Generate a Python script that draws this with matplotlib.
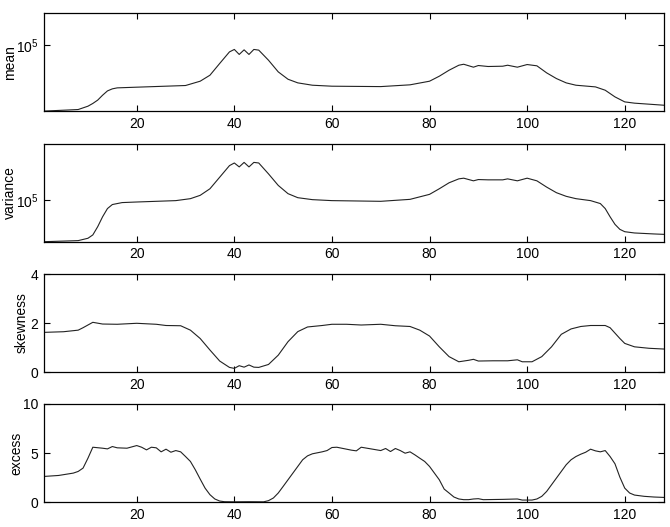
import numpy as np
import matplotlib
matplotlib.use("Agg")
import matplotlib.pyplot as plt
from matplotlib.ticker import FixedLocator, NullLocator, FuncFormatter

plt.rcParams['font.family'] = ['Liberation Sans', 'DejaVu Sans']
plt.rcParams['mathtext.fontset'] = 'custom'
plt.rcParams['mathtext.rm'] = 'Liberation Sans'

# mean (log10 values)
mean_x = [1, 8, 10, 11, 12, 13, 14, 15, 16, 20, 30, 33, 35, 37, 39, 40, 41, 42, 43, 44, 45,
          47, 49, 51, 53, 56, 60, 70, 76, 80, 82, 84, 86, 87, 89, 90, 92, 95, 96, 98, 100,
          102, 104, 106, 108, 110, 114, 116, 118, 120, 122, 126, 128]
mean_log10 = [4.328, 4.344, 4.378, 4.406, 4.44, 4.49, 4.534, 4.555, 4.565, 4.572, 4.589, 4.633,
              4.694, 4.814, 4.932, 4.957, 4.906, 4.953, 4.906, 4.957, 4.95, 4.847, 4.728, 4.653,
              4.616, 4.592, 4.582, 4.578, 4.596, 4.633, 4.684, 4.745, 4.796, 4.806, 4.776, 4.793,
              4.783, 4.786, 4.796, 4.776, 4.803, 4.79, 4.718, 4.66, 4.616, 4.592, 4.575, 4.541,
              4.473, 4.422, 4.409, 4.395, 4.388]

# variance (log10 values)
var_x = [1, 8, 10, 11, 12, 13, 14, 15, 17, 20, 28, 31, 33, 35, 37, 39, 40, 41, 42, 43, 44, 45,
         47, 49, 51, 53, 56, 60, 70, 76, 80, 82, 84, 86, 87, 89, 90, 92, 95, 96, 98, 100, 102,
         104, 106, 108, 110, 113, 115, 116, 117, 118, 119, 120, 122, 126, 128]
var_log10 = [4.575, 4.586, 4.61, 4.644, 4.728, 4.829, 4.913, 4.954, 4.974, 4.98, 4.994, 5.014,
             5.048, 5.115, 5.233, 5.351, 5.378, 5.338, 5.384, 5.338, 5.384, 5.378, 5.267, 5.149,
             5.065, 5.024, 5.004, 4.994, 4.987, 5.007, 5.058, 5.115, 5.176, 5.216, 5.223, 5.196,
             5.209, 5.206, 5.206, 5.216, 5.196, 5.223, 5.196, 5.132, 5.075, 5.038, 5.014, 4.994,
             4.964, 4.913, 4.829, 4.752, 4.701, 4.677, 4.664, 4.654, 4.65]

skew_x = [1, 5, 8, 9, 11, 13, 16, 20, 24, 26, 29, 31, 33, 35, 37, 39, 40, 41, 42, 43, 44, 45,
          47, 49, 51, 53, 55, 58, 60, 63, 66, 70, 73, 76, 78, 80, 82, 84, 86, 88, 89, 90, 93,
          96, 98, 99, 101, 103, 105, 107, 109, 111, 113, 116, 117, 119, 120, 122, 125, 128]
skew = [1.62, 1.646, 1.71, 1.81, 2.03, 1.96, 1.95, 1.99, 1.95, 1.90, 1.89, 1.71, 1.37, 0.90,
        0.45, 0.19, 0.15, 0.26, 0.20, 0.29, 0.20, 0.19, 0.31, 0.69, 1.24, 1.65, 1.84, 1.90,
        1.95, 1.95, 1.92, 1.95, 1.89, 1.86, 1.71, 1.47, 1.03, 0.63, 0.42, 0.48, 0.52, 0.45,
        0.46, 0.46, 0.50, 0.42, 0.42, 0.63, 1.03, 1.54, 1.76, 1.86, 1.90, 1.90, 1.81, 1.37,
        1.17, 1.03, 0.97, 0.94]

exc_x = [1, 4, 7, 8, 9, 10, 11, 13, 14, 15, 16, 18, 20, 21, 22, 23, 24, 25, 26, 27, 28, 29,
         30, 31, 32, 33, 34, 35, 36, 37, 38, 40, 43, 46, 47, 48, 49, 50, 51, 52, 53, 54, 55,
         56, 58, 59, 60, 61, 62, 63, 64, 65, 66, 68, 70, 71, 72, 73, 74, 75, 76, 77, 78, 79,
         80, 81, 82, 83, 84, 85, 86, 87, 88, 89, 90, 91, 95, 98, 99, 100, 101, 102, 103, 104,
         105, 106, 107, 108, 109, 110, 111, 112, 113, 114, 115, 116, 117, 118, 119, 120, 121,
         122, 124, 126, 128]
excess = [2.61, 2.71, 2.95, 3.12, 3.46, 4.47, 5.59, 5.49, 5.42, 5.66, 5.53, 5.49, 5.76, 5.59,
          5.32, 5.59, 5.53, 5.12, 5.39, 5.08, 5.25, 5.12, 4.64, 4.14, 3.29, 2.34, 1.42, 0.75,
          0.31, 0.10, 0.03, 0.02, 0.03, 0.02, 0.14, 0.41, 0.92, 1.59, 2.27, 2.95, 3.63, 4.31,
          4.71, 4.92, 5.12, 5.25, 5.56, 5.59, 5.49, 5.39, 5.29, 5.22, 5.59, 5.42, 5.25, 5.46,
          5.15, 5.46, 5.25, 4.98, 5.12, 4.81, 4.47, 4.14, 3.63, 2.95, 2.27, 1.32, 0.92, 0.51,
          0.31, 0.24, 0.24, 0.31, 0.34, 0.24, 0.27, 0.31, 0.20, 0.20, 0.20, 0.31, 0.58, 1.08,
          1.76, 2.44, 3.12, 3.80, 4.31, 4.64, 4.88, 5.08, 5.39, 5.22, 5.12, 5.25, 4.64, 3.90,
          2.54, 1.42, 0.92, 0.71, 0.58, 0.51, 0.47]

xticks = [20, 40, 60, 80, 100, 120]

fig = plt.figure(figsize=(6.7, 5.27), dpi=100)
left, width, height = 0.0657, 0.925, 0.186
bottoms = [0.789, 0.541, 0.294, 0.0474]

def style(ax):
    ax.set_xlim(1, 128)
    ax.xaxis.set_major_locator(FixedLocator(xticks))
    ax.xaxis.set_minor_locator(NullLocator())
    ax.yaxis.set_minor_locator(NullLocator())
    ax.tick_params(direction='in', top=True, right=True, length=4, width=0.8,
                   labelsize=10, pad=4)
    for s in ax.spines.values():
        s.set_linewidth(0.9)

def pow10(v, pos):
    return r'$\mathregular{10^{%d}}$' % round(np.log10(v))

lc = '#222222'
lw = 0.8

ax = fig.add_axes([left, bottoms[0], width, height])
ax.plot(mean_x, 10 ** np.array(mean_log10), color=lc, lw=lw)
ax.set_yscale('log')
ax.set_ylim(10 ** 4.327, 10 ** 5.327)
style(ax)
ax.yaxis.set_major_locator(FixedLocator([1e5]))
ax.yaxis.set_major_formatter(FuncFormatter(pow10))
ax.set_ylabel('mean', fontsize=10)
ax.yaxis.set_label_coords(-0.043, 0.5)

ax = fig.add_axes([left, bottoms[1], width, height])
ax.plot(var_x, 10 ** np.array(var_log10), color=lc, lw=lw)
ax.set_yscale('log')
ax.set_ylim(10 ** 4.573, 10 ** 5.573)
style(ax)
ax.yaxis.set_major_locator(FixedLocator([1e5]))
ax.yaxis.set_major_formatter(FuncFormatter(pow10))
ax.set_ylabel('variance', fontsize=10)
ax.yaxis.set_label_coords(-0.043, 0.5)

ax = fig.add_axes([left, bottoms[2], width, height])
ax.plot(skew_x, skew, color=lc, lw=lw)
ax.set_ylim(0, 4)
style(ax)
ax.set_yticks([0, 2, 4])
ax.set_ylabel('skewness', fontsize=10)
ax.yaxis.set_label_coords(-0.024, 0.5)

ax = fig.add_axes([left, bottoms[3], width, height])
ax.plot(exc_x, excess, color=lc, lw=lw)
ax.set_ylim(0, 10)
style(ax)
ax.set_yticks([0, 5, 10])
ax.set_ylabel('excess', fontsize=10)
ax.yaxis.set_label_coords(-0.034, 0.5)

fig.savefig('out.png', dpi=100)
